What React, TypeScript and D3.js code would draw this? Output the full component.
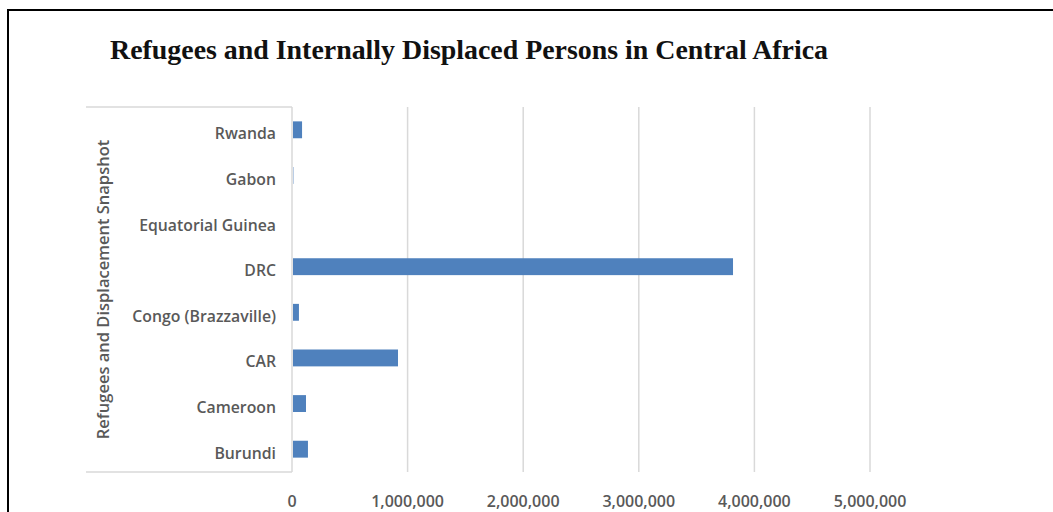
import React from "react";
import * as d3 from "d3";

const categories = [
  "Rwanda",
  "Gabon",
  "Equatorial Guinea",
  "DRC",
  "Congo (Brazzaville)",
  "CAR",
  "Cameroon",
  "Burundi",
];
const values = [87000, 12000, 0, 3815000, 60000, 917000, 121000, 138000];
const xTicks = [0, 1000000, 2000000, 3000000, 4000000, 5000000];

const W = 1053;
const H = 512;
const plot = { left: 292, right: 870, top: 107, bottom: 472 };
const labelFont = "'Open Sans', 'Noto Sans', sans-serif";

export default function App() {
  const x = d3.scaleLinear().domain([0, 5000000]).range([plot.left, plot.right]);
  const y = d3
    .scaleBand<string>()
    .domain(categories)
    .range([plot.top, plot.bottom])
    .paddingInner(0.63)
    .paddingOuter(0.315);
  const fmt = d3.format(",");

  return (
    <svg
      width={W}
      height={H}
      style={{ position: "absolute", left: 0, top: 0, background: "#fff" }}
    >
      {/* outer frame */}
      <rect x={8} y={10} width={W + 10} height={H + 10} fill="none" stroke="#000" strokeWidth={2} />

      <text
        x={110}
        y={59}
        fontFamily="'Liberation Serif', 'DejaVu Serif', serif"
        fontWeight="bold"
        fontSize={27}
        textLength={718}
        lengthAdjust="spacingAndGlyphs"
        fill="#111"
      >
        Refugees and Internally Displaced Persons in Central Africa
      </text>

      {/* vertical gridlines */}
      {xTicks.map((t) => (
        <line
          key={t}
          x1={x(t)}
          x2={x(t)}
          y1={plot.top}
          y2={plot.bottom}
          stroke="#d9d9d9"
          strokeWidth={1.5}
        />
      ))}

      {/* category axis box */}
      <line x1={86} x2={plot.left} y1={plot.top} y2={plot.top} stroke="#d9d9d9" strokeWidth={1.5} />
      <line x1={86} x2={plot.left} y1={plot.bottom} y2={plot.bottom} stroke="#d9d9d9" strokeWidth={1.5} />

      {/* bars */}
      {categories.map((c, i) => (
        <rect
          key={c}
          x={x(0) + 1}
          y={y(c)}
          width={Math.max(0, x(values[i]) - x(0) - 1)}
          height={y.bandwidth()}
          fill="#4f81bd"
        />
      ))}

      {/* category labels, set slightly below the bar centre */}
      {categories.map((c) => (
        <text
          key={c}
          x={276}
          y={(y(c) ?? 0) + y.bandwidth() / 2 + 4}
          dy="0.35em"
          textAnchor="end"
          fontFamily={labelFont}
          fontWeight={600}
          fontSize={15.8}
          fill="#595959"
        >
          {c}
        </text>
      ))}

      {/* value axis labels */}
      {xTicks.map((t) => (
        <text
          key={t}
          x={x(t)}
          y={501}
          dy="0.35em"
          textAnchor="middle"
          fontFamily={labelFont}
          fontWeight={600}
          fontSize={16}
          fill="#595959"
        >
          {fmt(t)}
        </text>
      ))}

      {/* axis title */}
      <text
        transform={`translate(103, ${(plot.top + plot.bottom) / 2}) rotate(-90)`}
        dy="0.35em"
        textAnchor="middle"
        fontFamily={labelFont}
        fontWeight={600}
        fontSize={16.5}
        fill="#595959"
      >
        Refugees and Displacement Snapshot
      </text>
    </svg>
  );
}
